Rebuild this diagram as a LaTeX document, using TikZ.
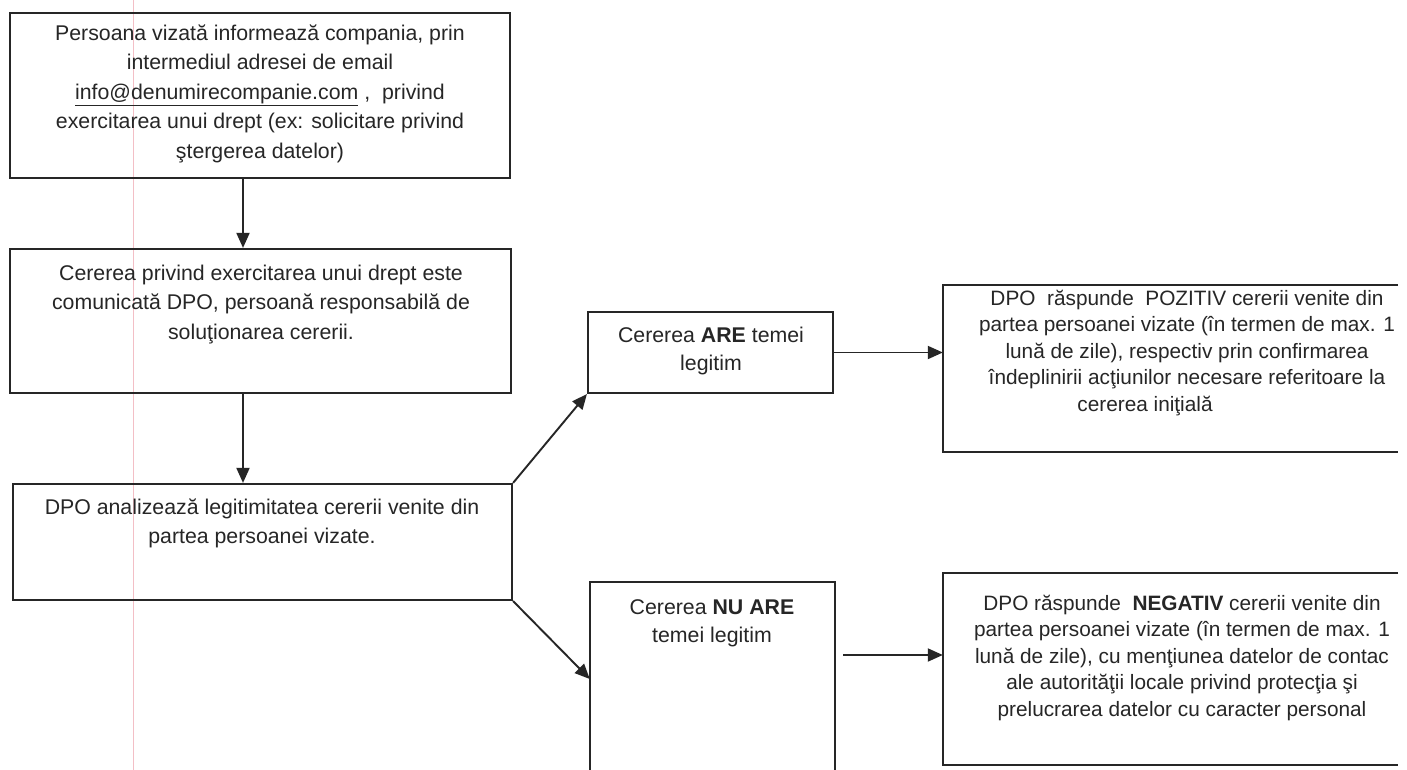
\documentclass[tikz,border=0pt]{standalone}
\usepackage{fontspec}
\setmainfont{Liberation Sans}
\usetikzlibrary{arrows.meta}
\definecolor{ink}{HTML}{262626}
\definecolor{margin}{HTML}{F3BFC6}
\tikzset{
  box/.style={draw=ink, line width=2.2pt, inner sep=0pt},
  openbox/.style={draw=none, inner sep=0pt},
  edge/.style={draw=ink, line width=2.2pt},
  arr/.style={draw=ink, line width=1.9pt, -{Triangle[length=15pt,width=13pt]}},
  txtL/.style={anchor=north, align=center, inner sep=0pt, text=ink,
    font=\fontsize{21.3}{29.5}\selectfont},
  txtM/.style={anchor=north, align=center, inner sep=0pt, text=ink,
    font=\fontsize{21.3}{28}\selectfont},
  txtR/.style={anchor=north, align=center, inner sep=0pt, text=ink,
    font=\fontsize{20.8}{26.5}\selectfont},
}
\newcommand{\topstrut}{\rule{0pt}{17pt}}
\begin{document}
\begin{tikzpicture}[x=1pt,y=-1pt]
\useasboundingbox (0,0) rectangle (1407,770);
\fill[white] (0,0) rectangle (1407,770);
% scan margin line
\draw[margin, line width=0.9pt] (133,0) -- (133,770);

% boxes
\node[box, minimum width=500pt, minimum height=165pt] (b1) at (260,95.5) {};
\node[box, minimum width=501pt, minimum height=144pt] (b2) at (260.5,321) {};
\node[box, minimum width=499pt, minimum height=116pt] (b3) at (262.5,542) {};
\node[box, minimum width=245pt, minimum height=81pt] (are) at (710.5,352.5) {};
\node[openbox, minimum width=245pt, minimum height=188pt] (nu) at (712.5,676) {};
\node[openbox, minimum width=455pt, minimum height=167pt] (poz) at (1170.5,368.5) {};
\node[openbox, minimum width=455pt, minimum height=192pt] (neg) at (1170.5,669) {};

% open (cropped) box outlines
\draw[edge] (nu.south west) -- (nu.north west) -- (nu.north east) -- (nu.south east);
\draw[edge] (poz.north east) -- (poz.north west) -- (poz.south west) -- (poz.south east);
\draw[edge] (neg.north east) -- (neg.north west) -- (neg.south west) -- (neg.south east);

% texts
\node[txtL] (t1) at (260,23) {\topstrut Persoana vizată informează compania, prin\\
intermediul adresei de email\\
\underline{info@denumirecompanie.com}\ ,\ \ privind\\
exercitarea unui drept (ex: solicitare privind\\
ştergerea datelor)};
\node[txtL] (t2) at (261,263) {\topstrut Cererea privind exercitarea unui drept este\\
comunicată DPO, persoană responsabilă de\\
soluţionarea cererii.};
\node[txtL] (t3) at (262,497) {\topstrut DPO analizează legitimitatea cererii venite din\\
partea persoanei vizate.};
\node[txtM] (t4) at (711,325) {\topstrut Cererea \textbf{ARE} temei\\
legitim};
\node[txtM] (t5) at (712,597) {\topstrut Cererea \textbf{NU ARE}\\
temei legitim};
\node[txtR] (t6) at (1187,288) {\topstrut DPO\ \ răspunde\ \ POZITIV cererii venite din\\
partea persoanei vizate (în termen de max. 1\\
lună de zile), respectiv prin confirmarea\\
îndeplinirii acţiunilor necesare referitoare la\\
cererea iniţială\hspace*{84pt}};
\node[txtR] (t7) at (1182,593) {\topstrut DPO răspunde\ \ \textbf{NEGATIV} cererii venite din\\
partea persoanei vizate (în termen de max. 1\\
lună de zile), cu menţiunea datelor de contac\\
ale autorităţii locale privind protecţia şi\\
prelucrarea datelor cu caracter personal};

% connectors
\draw[arr] ([xshift=-17pt]b1.south) -- ([xshift=-17pt]b1.south |- b2.north);
\draw[arr] ([xshift=-17.5pt]b2.south) -- ([xshift=-17.5pt]b2.south |- b3.north);
\draw[arr] (b3.north east) -- (are.south west);
\coordinate (nuin) at ([yshift=-3pt]nu.west);
\draw[arr] (b3.south east) -- (nuin);
\draw[arr] (are.east) -- (are.east -| poz.west);
\coordinate (nuout) at ([xshift=8pt,yshift=21pt]nu.east);
\draw[arr] (nuout) -- (nuout -| neg.west);
\end{tikzpicture}
\end{document}
